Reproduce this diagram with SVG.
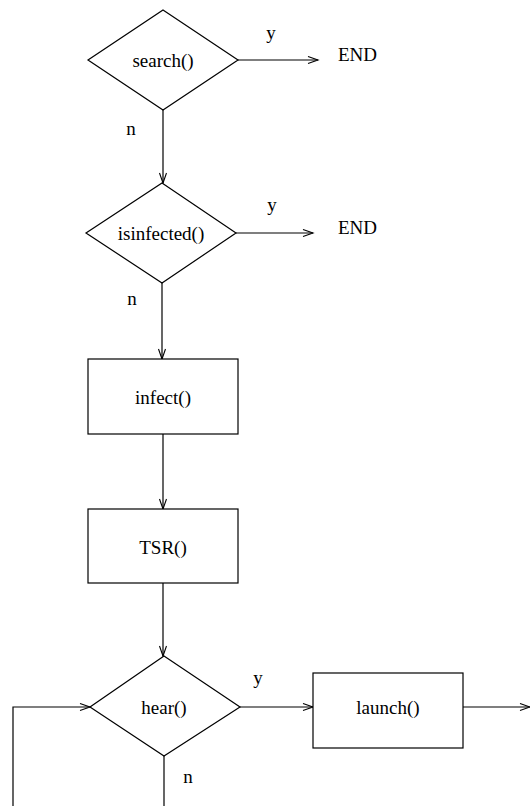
<svg xmlns="http://www.w3.org/2000/svg" width="530" height="806" viewBox="0 0 530 806">
<style>
.shape{fill:#fff;stroke:#000;stroke-width:1.2}
.conn{fill:none;stroke:#000;stroke-width:1.2}
text{font-family:"Liberation Serif","Times New Roman",serif;font-size:19px;fill:#000}
.c{text-anchor:middle}
</style>
<defs>
<marker id="arr" markerUnits="userSpaceOnUse" markerWidth="14" markerHeight="10" refX="11" refY="4" orient="auto">
<path d="M1,0.5 L11,4 L1,7.5" fill="none" stroke="#000" stroke-width="1.1"/>
</marker>
</defs>
<rect width="530" height="806" fill="#fff"/>
<g id="connectors">
<path class="conn" d="M238,60 H318" marker-end="url(#arr)"/>
<path class="conn" d="M163,110 V183" marker-end="url(#arr)"/>
<path class="conn" d="M236,233 H313" marker-end="url(#arr)"/>
<path class="conn" d="M162,283 V359" marker-end="url(#arr)"/>
<path class="conn" d="M163,434 V509" marker-end="url(#arr)"/>
<path class="conn" d="M163,583 V656" marker-end="url(#arr)"/>
<path class="conn" d="M240,707 H313" marker-end="url(#arr)"/>
<path class="conn" d="M463,707 H530" marker-end="url(#arr)"/>
<path class="conn" d="M164,756 V806"/>
<path class="conn" d="M13,806 V707 H90" marker-end="url(#arr)"/>
</g>
<g id="labels">
<text x="271" y="39" class="c">y</text>
<text x="131" y="135" class="c">n</text>
<text x="272" y="211" class="c">y</text>
<text x="132" y="305" class="c">n</text>
<text x="258" y="684" class="c">y</text>
<text x="188" y="783" class="c">n</text>
</g>
<g id="end1"><text x="338" y="61">END</text></g>
<g id="end2"><text x="338" y="234">END</text></g>
<g id="search">
<polygon class="shape" points="163,10 238,60 163,110 88,60"/>
<text x="163" y="67" class="c">search()</text>
</g>
<g id="isinfected">
<polygon class="shape" points="162,183 236,233 162,283 86,233"/>
<text x="161" y="240" class="c">isinfected()</text>
</g>
<g id="infect">
<rect class="shape" x="88" y="359" width="150" height="75"/>
<text x="163" y="404" class="c">infect()</text>
</g>
<g id="tsr">
<rect class="shape" x="88" y="509" width="150" height="74"/>
<text x="163" y="554" class="c">TSR()</text>
</g>
<g id="hear">
<polygon class="shape" points="164,656 240,707 164,756 90,707"/>
<text x="164" y="714" class="c">hear()</text>
</g>
<g id="launch">
<rect class="shape" x="313" y="673" width="150" height="75"/>
<text x="388" y="714" class="c">launch()</text>
</g>
</svg>
